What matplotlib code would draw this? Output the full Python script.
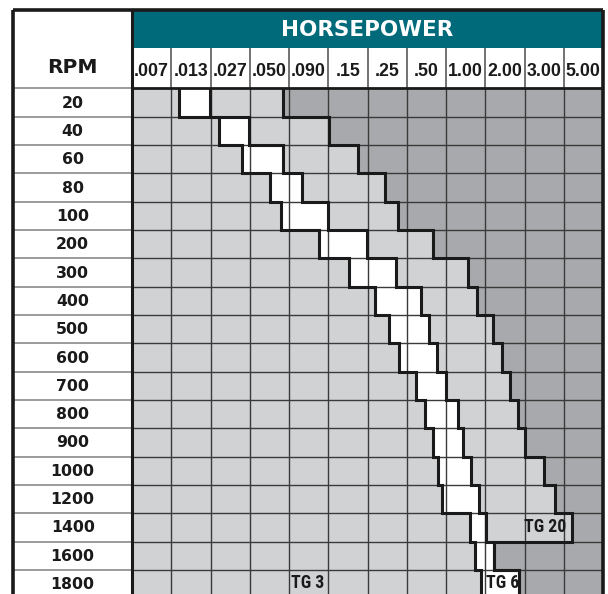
import matplotlib
matplotlib.use("Agg")
import matplotlib.pyplot as plt
import numpy as np
from matplotlib import font_manager

# ---- data ----
hp_labels = [".007", ".013", ".027", ".050", ".090", ".15", ".25", ".50",
             "1.00", "2.00", "3.00", "5.00"]
rpm_labels = ["20", "40", "60", "80", "100", "200", "300", "400", "500", "600",
              "700", "800", "900", "1000", "1200", "1400", "1600", "1800"]
# boundaries in column units (0 = left edge of ".007" column)
band_left = [1.20, 2.22, 2.81, 3.52, 3.79, 4.76, 5.54, 6.19, 6.55, 6.80,
             7.23, 7.46, 7.66, 7.79, 7.91, 8.62, 8.75, 8.90]
band_right = [1.99, 2.98, 3.85, 4.32, 5.00, 5.99, 6.73, 7.36, 7.57, 7.78,
              7.99, 8.30, 8.43, 8.64, 8.84, 9.01, 9.22, 9.87]
dark_start = [3.85, 5.02, 5.77, 6.45, 6.78, 7.68, 8.55, 8.78, 9.20, 9.42,
              9.63, 9.84, 10.01, 10.50, 10.78, 11.22, 9.22, 9.87]
region_labels = ["TG 3", "TG 6", "TG 20"]
region_x = [4.48, 9.43, 10.52]
region_row = [17.47, 17.47, 15.47]
header_title = "HORSEPOWER"
rpm_title = "RPM"

# ---- style ----
TEAL = "#006a7b"
LIGHT = "#d1d2d4"
DARK = "#a7a9ac"
GRID = "#3a3a3a"

# pick a condensed bold family if one is installed
names = {f.name for f in font_manager.fontManager.ttflist}
cond = [n for n in ("Liberation Sans Narrow", "DejaVu Sans Condensed", "Roboto Condensed",
                    "Open Sans Condensed") if n in names]
tg_family = cond + ["DejaVu Sans"]
tg_size = 12.8 if cond else 10

ncol = len(hp_labels)
nrow = len(rpm_labels)
rows = np.arange(nrow)
rpm_left = -3.024
top = -2.764
teal_bottom = -1.405

fig = plt.figure(figsize=(6.08, 5.94), dpi=100)
ax = fig.add_axes([0, 0, 1, 1])
ax.set_xlim(-132 / 39.25, (608 - 132) / 39.25)
ax.set_ylim((594 - 88.3) / 28.33, -88.3 / 28.33)
ax.axis("off")

bl = np.array(band_left)
br = np.array(band_right)
ds = np.array(dark_start)

# cell fills
ax.barh(rows, ncol, left=0, height=1, align="edge", color=LIGHT, lw=0, zorder=1)
ax.barh(rows, ncol - ds, left=ds, height=1, align="edge", color=DARK, lw=0, zorder=1)
ax.barh(rows, br - bl, left=bl, height=1, align="edge", color="white", lw=0, zorder=1)

# header
ax.barh([top], ncol, left=0, height=teal_bottom - top, align="edge",
        color=TEAL, lw=0, zorder=1)

# grid lines
ax.vlines(np.arange(1, ncol), 0, nrow, color=GRID, lw=1.0, zorder=2)
ax.hlines(np.arange(1, nrow), 0, ncol, color=GRID, lw=1.0, zorder=2)
ax.hlines(np.arange(0, nrow), rpm_left, 0, color="#8a8a8a", lw=1.2, zorder=2)
ax.vlines(np.arange(1, ncol), teal_bottom, 0, color="#5a5a5a", lw=1.2, zorder=2)

# staircase boundaries
def stair(b):
    xs = np.repeat(b, 2)
    ys = np.empty(2 * len(b))
    ys[0::2] = np.arange(len(b))
    ys[1::2] = np.arange(1, len(b) + 1)
    return xs, ys

for b in (bl, br, ds):
    xs, ys = stair(b)
    ax.plot(xs, ys, color="#1a1a1a", lw=2.2, solid_joinstyle="miter",
            solid_capstyle="butt", zorder=3)

# borders
ax.hlines([0], 0, ncol, color="#1a1a1a", lw=2.0, zorder=3)
ax.hlines([top], rpm_left, ncol, color="#1a1a1a", lw=2.6, zorder=4)
ax.vlines([rpm_left, ncol], top, nrow, color="#1a1a1a", lw=2.6, zorder=4)
ax.vlines([0], top, nrow, color="#1a1a1a", lw=2.2, zorder=4)

# texts
ax.text(ncol / 2, (top + teal_bottom) / 2 + 0.03, header_title, color="white",
        fontsize=15.5, fontweight="bold", family="DejaVu Sans",
        ha="center", va="center", zorder=5)
ax.text(rpm_left / 2, -0.75, rpm_title, color="#1a1a1a", fontsize=14.5,
        fontweight="bold", family="DejaVu Sans", ha="center", va="center", zorder=5)
for i, lab in enumerate(hp_labels):
    ax.text(i + 0.5, -0.6, lab, color="#1a1a1a", fontsize=12.8,
            fontweight="bold", family="Liberation Sans",
            ha="center", va="center", zorder=5)
for i, lab in enumerate(rpm_labels):
    ax.text(rpm_left / 2, i + 0.52, lab, color="#1a1a1a", fontsize=11.3,
            fontweight="bold", family="DejaVu Sans",
            ha="center", va="center", zorder=5)
for lab, x, r in zip(region_labels, region_x, region_row):
    ax.text(x, r, lab, color="#1a1a1a", fontsize=tg_size,
            fontweight="bold", family=tg_family, fontstretch="condensed",
            ha="center", va="center", zorder=5)

fig.savefig("out.png", dpi=100)
